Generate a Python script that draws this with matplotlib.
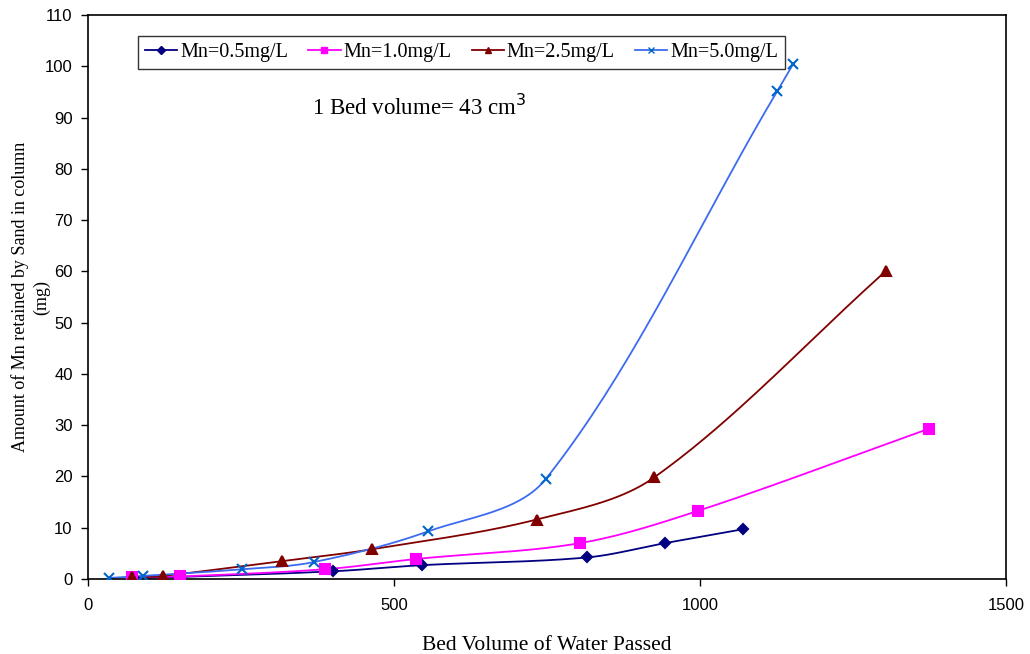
import numpy as np
import matplotlib
matplotlib.use('Agg')
import matplotlib.pyplot as plt

# bed volumes passed and Mn retained (mg) for each feed concentration
bv_05 = [75, 150, 400, 546, 815, 943, 1070]
mn_05 = [0.2, 0.4, 1.5, 2.7, 4.2, 7.0, 9.7]

bv_10 = [72, 150, 387, 536, 804, 997, 1374]
mn_10 = [0.4, 0.5, 1.9, 3.9, 7.0, 13.3, 29.3]

bv_25 = [72, 122, 317, 464, 733, 925, 1304]
mn_25 = [0.3, 0.6, 3.5, 5.8, 11.6, 19.8, 60.1]

bv_50 = [34, 90, 252, 369, 556, 748, 1126, 1152]
mn_50 = [0.2, 0.6, 1.9, 3.3, 9.3, 19.5, 95.1, 100.4]

labels = ['Mn=0.5mg/L', 'Mn=1.0mg/L', 'Mn=2.5mg/L', 'Mn=5.0mg/L']

XMAX, YMAX = 1500, 110


def smooth(x, y, n=40):
    # bezier segments through the points ("smoothed line"), tangents worked
    # out in screen units so the control arms follow each segment's length
    sx, sy = 918.0 / XMAX, 564.0 / YMAX
    p = np.column_stack([np.asarray(x, float) * sx, np.asarray(y, float) * sy])
    m = len(p)
    tang = np.zeros_like(p)
    for i in range(m):
        a = p[max(i - 1, 0)]
        b = p[min(i + 1, m - 1)]
        la = np.linalg.norm(p[i] - a)
        lb = np.linalg.norm(b - p[i])
        tang[i] = (b - a) / max(la + lb, 1e-9)
    t = np.linspace(0, 1, n)[1:]
    out = [p[0]]
    for i in range(m - 1):
        L = np.linalg.norm(p[i + 1] - p[i])
        c1 = p[i] + tang[i] * L / 3.0
        c2 = p[i + 1] - tang[i + 1] * L / 3.0
        seg = ((1 - t)[:, None] ** 3 * p[i] + 3 * ((1 - t) ** 2 * t)[:, None] * c1
               + 3 * ((1 - t) * t ** 2)[:, None] * c2 + (t ** 3)[:, None] * p[i + 1])
        out.extend(seg)
    out = np.array(out)
    return out[:, 0] / sx, out[:, 1] / sy


fig = plt.figure(figsize=(10.3, 6.54), dpi=100)
ax = fig.add_axes([88 / 1030, 75 / 654, 918 / 1030, 564 / 654])

series = [
    (bv_05, mn_05, '#000080', '#000080', 'D', 5.5),
    (bv_10, mn_10, '#FF00FF', '#FF00FF', 's', 6.5),
    (bv_25, mn_25, '#800000', '#800000', '^', 6.5),
    (bv_50, mn_50, '#3D6BF0', '#0066CC', 'x', 7),
]
for (x, y, lc, mc, m, ms), lab in zip(series, labels):
    cx, cy = smooth(x, y)
    ax.plot(cx, cy, color=lc, lw=1.3, zorder=2)
    ax.plot(x, y, ls='none', marker=m, color=mc, ms=ms, mew=1.5, zorder=3)
    ax.plot([], [], color=lc, lw=1.3, marker=m, ms=ms * 0.7, mfc=mc, mec=mc, label=lab)

ax.set_xlim(0, XMAX)
ax.set_ylim(0, YMAX)
ax.set_xticks([0, 500, 1000, 1500])
ax.set_yticks(np.arange(0, 111, 10))
ax.tick_params(direction='out', length=5, width=1, labelsize=12)
ax.tick_params(axis='x', pad=9)
ax.tick_params(axis='y', pad=6)
for lbl in ax.get_xticklabels() + ax.get_yticklabels():
    lbl.set_family('Liberation Sans')
for s in ax.spines.values():
    s.set_linewidth(1.2)

serif = 'Liberation Serif'
ax.set_xlabel('Bed Volume of Water Passed', family=serif, fontsize=15.5, labelpad=16)
fig.text(20 / 1030, 1 - 297 / 654, 'Amount of Mn retained by Sand in column',
         family=serif, fontsize=13, rotation=90, ha='center', va='center')
fig.text(42 / 1030, 1 - 297 / 654, '(mg)',
         family=serif, fontsize=13, rotation=90, ha='center', va='center')

ax.text(0.244, 0.837, '1 Bed volume= 43 cm$^3$', transform=ax.transAxes,
        family=serif, fontsize=16.5, va='center', ha='left')

leg = ax.legend(loc='upper left', bbox_to_anchor=(50 / 918, 543 / 564), ncol=4,
                prop={'family': serif, 'size': 14.5}, frameon=True, fancybox=False,
                edgecolor='black', borderaxespad=0, handlelength=1.6,
                handletextpad=0.15, columnspacing=1.0, borderpad=0.35)
leg.get_frame().set_linewidth(1.0)

fig.savefig('out.png', dpi=100)
